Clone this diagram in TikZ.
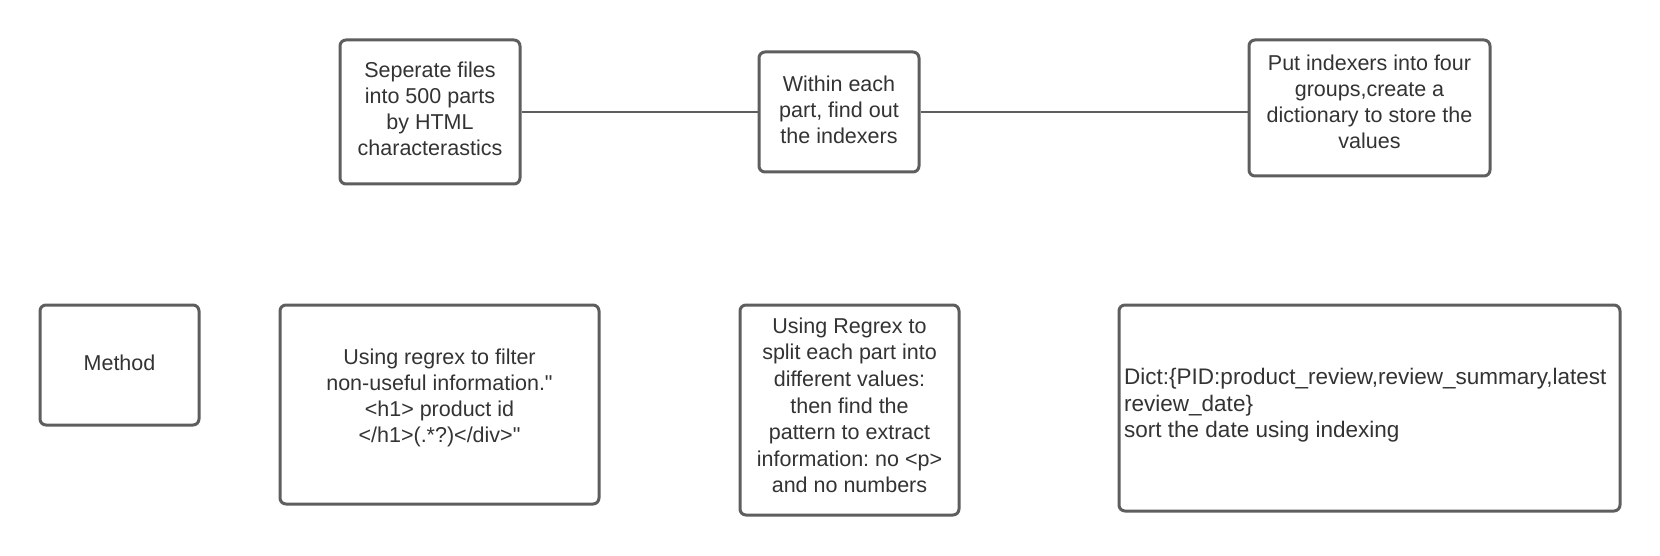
\documentclass[tikz,border=0pt]{standalone}
\usepackage{fontspec}
\setmainfont{Liberation Sans}
\frenchspacing
\definecolor{edge}{HTML}{5E5E5E}
\definecolor{ink}{HTML}{333333}
\begin{document}
\begin{tikzpicture}[x=1pt,y=-1pt,
  box/.style={draw=edge, line width=3pt, rounded corners=6pt, fill=white, inner sep=0pt},
  txt/.style={text=ink, align=center, font=\fontsize{21.5}{26}\selectfont\frenchspacing, inner sep=0pt},
  conn/.style={draw=edge, line width=2pt}]
\useasboundingbox[fill=white] (0,0) rectangle (1660,556);
% top row
\node[box, minimum width=180pt, minimum height=144pt] (b1) at (430,112) {};
\node[box, minimum width=160pt, minimum height=120pt] (b2) at (839,112) {};
\node[box, minimum width=241pt, minimum height=136pt] (b3) at (1369.5,108) {};
\node[txt] (t1) at (430,108.5) {Seperate files\\into 500 parts\\by HTML\\characterastics};
\node[txt] (t2) at (839,110) {Within each\\part, find out\\the indexers};
\node[txt] (t3) at (1369.5,101.7) {Put indexers into four\\groups,create a\\dictionary to store the\\values};
\draw[conn] (b1.east) -- (b2.west);
\draw[conn] (b2.east) -- (b2.east -| b3.west);
% bottom row
\node[box, minimum width=159pt, minimum height=120pt] (m) at (119.5,365) {};
\node[box, minimum width=319pt, minimum height=199pt] (r) at (439.5,404.5) {};
\node[box, minimum width=219pt, minimum height=210pt] (s) at (849.5,410) {};
\node[box, minimum width=501pt, minimum height=206pt] (d) at (1369.5,408) {};
\node[txt] (tm) at (119.5,363) {Method};
\node[txt] (tr) at (439.5,397.5) {Using regrex to filter\\non-useful information.\textquotedbl\\<h1> product id\\</h1>(.*?)</div>\textquotedbl};
\node[txt, font=\fontsize{21.5}{26.6}\selectfont\frenchspacing] (ts) at (849.5,405.5) {Using Regrex to\\split each part into\\different values:\\then find the\\pattern to extract\\information: no <p>\\and no numbers};
\node[txt, align=left, anchor=west, font=\fontsize{22.5}{26.5}\selectfont\frenchspacing] (td) at (1124,405.5) {Dict:\{PID:product\_review,review\_summary,latest\\review\_date\}\\sort the date using indexing};
\end{tikzpicture}
\end{document}
